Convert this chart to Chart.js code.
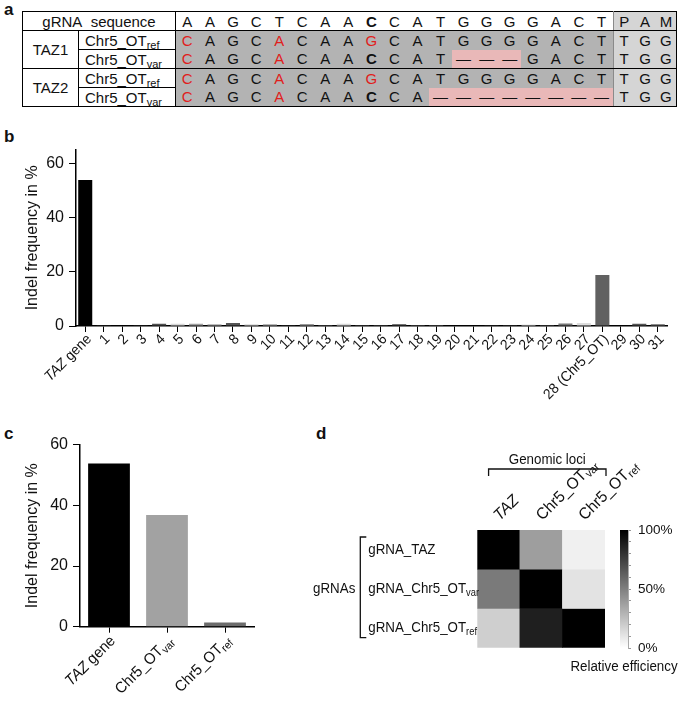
<!DOCTYPE html>
<html><head><meta charset="utf-8">
<script src="https://cdn.jsdelivr.net/npm/chart.js@4/dist/chart.umd.min.js"></script>
<style>
html,body{margin:0;padding:0;background:#fff;}
body{width:685px;height:702px;position:relative;overflow:hidden;font-family:"Liberation Sans",Arial,Helvetica,sans-serif;color:#111;}
.pl{position:absolute;font-weight:bold;font-size:17px;line-height:17px;}
canvas{position:absolute;}
#seqTable{position:absolute;left:22px;top:11px;border-collapse:collapse;table-layout:fixed;font-size:15px;border:1px solid #000;}
#seqTable td{padding:0;height:18px;text-align:center;white-space:nowrap;overflow:visible;line-height:17px;}
#seqTable sub{font-size:11px;vertical-align:-3px;line-height:0;}
</style></head>
<body>
<div class="pl" style="left:4px;top:1px">a</div>
<div class="pl" style="left:4px;top:128px">b</div>
<div class="pl" style="left:4px;top:425px">c</div>
<div class="pl" style="left:316px;top:425px">d</div>
<table id="seqTable"></table>
<canvas id="cb" width="685" height="300" style="left:0;top:130px"></canvas>
<canvas id="cc" width="270" height="272" style="left:0;top:430px"></canvas>
<canvas id="cd" width="385" height="262" style="left:300px;top:440px"></canvas>
<canvas id="ce" width="125" height="170" style="left:560px;top:515px"></canvas>
<script>
// ---------- DATA ----------
// panel a
const gRNASeq   = ['A','A','G','C','T','C','A','A','C','C','A','T','G','G','G','G','A','C','T'];
const pamHeader = ['P','A','M'];
const refSeq    = ['C','A','G','C','A','C','A','A','G','C','A','T','G','G','G','G','A','C','T'];
const taz1Var   = ['C','A','G','C','A','C','A','A','C','C','A','T','—','—','—','G','A','C','T'];
const taz2Var   = ['C','A','G','C','A','C','A','A','C','C','A','—','—','—','—','—','—','—','—'];
const pamSeq    = ['T','G','G'];
const refMismatch = [0,4,8];
const varMismatch = [0,4];
const boldPos     = [8];
const taz1Deleted = [12,13,14];
const taz2Deleted = [11,12,13,14,15,16,17,18];

// panel b
const lociLabels = ['*TAZ* gene','1','2','3','4','5','6','7','8','9','10','11','12','13','14','15','16','17','18','19','20','21','22','23','24','25','26','27','28 (Chr5_OT)','29','30','31'];
const lociIndel  = [53.8,0.3,0.15,0.3,0.8,0.8,0.8,0.6,1.1,0.6,0.6,0.1,0.7,0.4,0.8,0.1,0.3,0.6,0.1,0.1,0.2,0.2,0.3,0.3,0.5,0.1,0.9,1.1,18.8,0.2,0.8,0.6];
const indelTicks = [0,20,40,60];

// panel c
const targetLabels = ['*TAZ* gene','Chr5_OT_{var}','Chr5_OT_{ref}'];
const targetIndel  = [53.8,36.8,1.4];

// panel d
const heatCols = ['*TAZ*','Chr5_OT_{var}','Chr5_OT_{ref}'];
const heatRows = ['gRNA_TAZ','gRNA_Chr5_OT_{var}','gRNA_Chr5_OT_{ref}'];
const effTAZgRNA = [100,38,6];
const effVargRNA = [52,100,11];
const effRefgRNA = [19,88,100];
const effRange   = [0,100];
const effTickLabels = {0:'0%',50:'50%',100:'100%'};

// ---------- STYLES ----------
const F = '"Liberation Sans", Arial, Helvetica, sans-serif';
const TXT = '#111';
const lociColors = ['#000','#404040','#707070','#404040','#505050','#d8d8d8','#a0a0a0','#a8a8a8','#555','#d8d8d8','#a0a0a0','#555','#999','#555','#d8d8d8','#888','#888','#444','#aaa','#aaa','#666','#777','#444','#666','#ccc','#999','#777','#ddd','#616161','#999','#555','#666'];
const targetColors = ['#000','#a2a2a2','#6c6c6c'];

// ---------- TABLE (panel a) ----------
(function(){
  const t = document.getElementById('seqTable');
  const cg = document.createElement('colgroup');
  const widths = [56,97].concat(gRNASeq.map(()=>23.06)).concat(pamHeader.map(()=>21.1));
  widths.forEach(w=>{const c=document.createElement('col');c.style.width=w+'px';cg.appendChild(c);});
  t.appendChild(cg);
  const SEQBG='#b3b3b3', PAMBG='#d5d5d5', PINK='#e9b8b8';
  function row(cells){const tr=document.createElement('tr');cells.forEach(c=>tr.appendChild(c));t.appendChild(tr);return tr;}
  function td(html,st,attrs){const d=document.createElement('td');d.innerHTML=html;if(st)d.style.cssText=st;if(attrs)for(const k in attrs)d.setAttribute(k,attrs[k]);return d;}
  function seqCells(seq, red, del, bg, extra){
    return seq.map((ch,i)=>{
      let st='background:'+(del.includes(i)?PINK:bg)+';'+(extra||'');
      if(red.includes(i)) st+='color:#e0201c;';
      if(boldPos.includes(i) && ch==='C') st+='font-weight:bold;';
      if(i===seq.length-1) st+='border-right:1px solid #8a8a8a;';
      return td(ch,st);
    });
  }
  function pamCells(arr,extra){return arr.map(ch=>td(ch,'background:'+PAMBG+';'+(extra||'')));}
  const bb='border-bottom:1px solid #000;';
  row([td('gRNA&nbsp; sequence','border-right:1px solid #000;'+bb,{colspan:2})]
      .concat(gRNASeq.map((ch,i)=>td(ch,bb+(boldPos.includes(i)?'font-weight:bold;':'')+(i===gRNASeq.length-1?'border-right:1px solid #8a8a8a;':''))))
      .concat(pamCells(pamHeader,bb)));
  function block(name, varSeq, del){
    row([td(name,'border-right:1px solid #000;'+bb,{rowspan:2}), td('Chr5_OT<sub>ref</sub>','border-right:1px solid #000;border-bottom:1px solid #000;text-align:left;padding-left:6px;')]
      .concat(seqCells(refSeq, refMismatch, [], SEQBG)).concat(pamCells(pamSeq)));
    row([td('Chr5_OT<sub>var</sub>','border-right:1px solid #000;'+bb+'text-align:left;padding-left:6px;')]
      .concat(seqCells(varSeq, varMismatch, del, SEQBG, bb)).concat(pamCells(pamSeq,bb)));
  }
  block('TAZ1', taz1Var, taz1Deleted);
  block('TAZ2', taz2Var, taz2Deleted);
})();

// ---------- rich text helper ----------
function parseRich(s){
  const out=[]; let it=false, buf='', i=0;
  const push=()=>{ if(buf){out.push({t:buf,it,sub:false}); buf='';} };
  while(i<s.length){
    if(s[i]==='*'){push(); it=!it; i++; continue;}
    if(s.startsWith('_{',i)){push(); const j=s.indexOf('}',i); out.push({t:s.slice(i+2,j),it,sub:true}); i=j+1; continue;}
    buf+=s[i]; i++;
  }
  push(); return out;
}
function drawRich(ctx, s, x, y, o){
  const size=o.size, segs=parseRich(s), sx=o.sx||1;
  const fontOf=sg=>(sg.it?'italic ':'')+(sg.sub?size*0.7:size)+'px '+F;
  let W=0; segs.forEach(sg=>{ctx.font=fontOf(sg); sg.w=ctx.measureText(sg.t).width; W+=sg.w;});
  ctx.save(); ctx.translate(x,y); ctx.rotate(o.angle||0); ctx.scale(sx,1);
  ctx.fillStyle=o.color||TXT; ctx.textBaseline='middle'; ctx.textAlign='left';
  let cx = o.align==='right'?-W:(o.align==='center'?-W/2:0);
  segs.forEach(sg=>{ctx.font=fontOf(sg); ctx.fillText(sg.t,cx,sg.sub?size*0.27:0); cx+=sg.w;});
  ctx.restore();
}
const richX = {
  id:'richX',
  afterDraw(chart, args, opts){
    const xs=chart.scales.x, ctx=chart.ctx;
    opts.labels.forEach((lab,i)=>{
      drawRich(ctx, lab, xs.getPixelForValue(i)+opts.dx, xs.top+opts.dy, {size:opts.size, angle:-Math.PI/4, align:'right', sx:opts.sx});
    });
  }
};

Chart.defaults.font.family = F;
Chart.defaults.color = TXT;

function barOpts(pad, xh, yw, ymax, yticks, lab, labOpts){
  return {
    animation:false, responsive:false, events:[],
    layout:{padding:pad},
    plugins:{legend:{display:false}, tooltip:{enabled:false}, richX:Object.assign({labels:lab},labOpts)},
    scales:{
      x:{grid:{display:true,drawOnChartArea:false,drawTicks:true,tickLength:6,color:'#000',lineWidth:1,offset:false},
         border:{display:true,color:'#000',width:1.5}, ticks:{display:false},
         afterFit(s){s.height=xh;}},
      y:{min:0,max:ymax, afterBuildTicks(s){s.ticks=yticks.map(v=>({value:v}));},
         grid:{drawOnChartArea:false,drawTicks:true,tickLength:7,color:'#000',lineWidth:1},
         border:{display:true,color:'#000',width:1.5},
         ticks:{font:{size:16,family:F},color:TXT,padding:5},
         title:{display:true,text:'Indel frequency in %',font:{size:16,family:F},color:TXT,padding:{top:23,bottom:0}},
         afterFit(s){s.width=yw;}}
    }
  };
}

// ---------- panel b ----------
new Chart(document.getElementById('cb'),{
  type:'bar',
  data:{labels:lociLabels, datasets:[{data:lociIndel, backgroundColor:lociColors, borderWidth:0, barPercentage:0.76, categoryPercentage:1}]},
  options:barOpts({top:19.7,right:18,bottom:0,left:0}, 104, 76, 65, indelTicks, lociLabels, {size:14.5, dx:4, dy:11, sx:0.95}),
  plugins:[richX]
});

// ---------- panel c ----------
new Chart(document.getElementById('cc'),{
  type:'bar',
  data:{labels:targetLabels, datasets:[{data:targetIndel, backgroundColor:targetColors, borderWidth:0, barPercentage:0.72, categoryPercentage:1}]},
  options:barOpts({top:12.7,right:16,bottom:0,left:0}, 75.3, 80, 60, indelTicks, targetLabels, {size:15.5, dx:4, dy:12, sx:0.95}),
  plugins:[richX]
});

// ---------- panel d heatmap ----------
const grayOf = v => { const g=Math.round(255*(1-v/100)); return 'rgb('+g+','+g+','+g+')'; };
const heatData = [effTAZgRNA, effVargRNA, effRefgRNA];
const SQ = 0.86;
const heatLabels = {
  id:'heatLabels',
  afterDraw(chart){
    const ctx=chart.ctx, xs=chart.scales.x, ys=chart.scales.y, ca=chart.chartArea;
    heatCols.forEach((c,i)=>drawRich(ctx,c,xs.getPixelForValue(i)-2,ca.top-12,{size:16,angle:-Math.PI/4,align:'left',sx:0.97}));
    heatRows.forEach((r,i)=>drawRich(ctx,r,ca.left-109,ys.getPixelForValue(i+0.5),{size:15.5,align:'left',sx:SQ}));
    drawRich(ctx,'gRNAs',ca.left-122,ys.getPixelForValue(1.5),{size:15.5,align:'right',sx:SQ});
    ctx.save(); ctx.strokeStyle='#111'; ctx.lineWidth=1.3;
    // row bracket
    const bx=ca.left-117;
    ctx.beginPath(); ctx.moveTo(bx+6,ca.top+7); ctx.lineTo(bx,ca.top+7); ctx.lineTo(bx,ca.bottom-10); ctx.lineTo(bx+6,ca.bottom-10); ctx.stroke();
    // column bracket
    const l=xs.getPixelForValue(0)-10, r=ca.right+1, y=ca.top-61;
    ctx.beginPath(); ctx.moveTo(l,y+7); ctx.lineTo(l,y); ctx.lineTo(r,y); ctx.lineTo(r,y+7); ctx.stroke();
    ctx.restore();
    drawRich(ctx,'Genomic loci',(l+r)/2,y-9,{size:15.5,align:'center',sx:SQ});
  }
};
new Chart(document.getElementById('cd'),{
  type:'bar',
  data:{labels:heatCols, datasets:heatData.map(row=>({data:row.map(()=>1), backgroundColor:row.map(grayOf), borderWidth:0, barPercentage:1, categoryPercentage:1}))},
  options:{
    animation:false, responsive:false, events:[],
    layout:{padding:{left:177.3,right:80,top:90,bottom:54.3}},
    plugins:{legend:{display:false},tooltip:{enabled:false}},
    scales:{x:{display:false,stacked:true}, y:{display:false,stacked:true,min:0,max:3,reverse:true}}
  },
  plugins:[heatLabels]
});

// ---------- colorbar ----------
const cbTitle = {
  id:'cbTitle',
  afterDraw(chart){ const ca=chart.chartArea; drawRich(chart.ctx,'Relative efficiency',(ca.left+ca.right)/2,ca.bottom+19,{size:15.5,align:'center',sx:SQ}); }
};
new Chart(document.getElementById('ce'),{
  type:'bar',
  data:{labels:[''], datasets:[{data:[effRange], borderWidth:0, barPercentage:1, categoryPercentage:1,
    backgroundColor:(c)=>{const ca=c.chart.chartArea; if(!ca) return '#000'; const g=c.chart.ctx.createLinearGradient(0,ca.bottom,0,ca.top); g.addColorStop(0,'#fff'); g.addColorStop(1,'#000'); return g;}}]},
  options:{
    animation:false, responsive:false, events:[],
    layout:{padding:{left:60,right:0,top:15,bottom:37}},
    plugins:{legend:{display:false},tooltip:{enabled:false}},
    scales:{
      x:{display:false},
      y:{position:'right',min:effRange[0],max:effRange[1],
         ticks:{stepSize:10,autoSkip:false,font:{size:13.5,family:F},color:TXT,padding:7,callback:v=>effTickLabels[v]||''},
         grid:{drawOnChartArea:false,drawTicks:true,tickLength:3,color:'#999',lineWidth:1},
         border:{display:true,color:'#aaa',width:1},
         afterFit(s){s.width=57;}}
    }
  },
  plugins:[cbTitle]
});
</script>
</body></html>
